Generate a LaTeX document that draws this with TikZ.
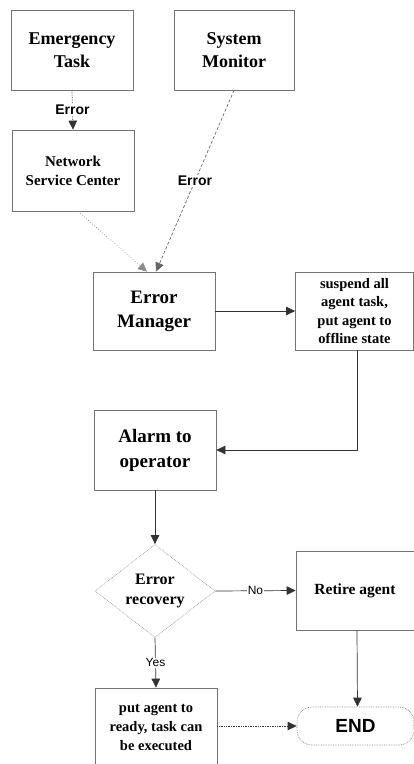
\documentclass[tikz,border=0pt]{standalone}
\usepackage{fontspec}
\setmainfont{Liberation Serif}
\newfontfamily\arialf{Liberation Sans}
\usetikzlibrary{shapes.geometric,arrows.meta}
\tikzset{
  boxnode/.style={draw=black!55, line width=0.7pt, align=center, inner sep=2pt, font=\bfseries},
  dia/.style={diamond, draw=black!40, densely dotted, line width=0.7pt, align=center, inner sep=0pt, minimum width=120pt, minimum height=78pt, font=\bfseries\fontsize{16}{20}\selectfont},
  conn/.style={draw=black!80, line width=0.7pt, -{Triangle[length=9pt,width=8.5pt]}},
  dconn/.style={conn, densely dotted},
  lconn/.style={conn, draw=black!45, dotted},
  lab/.style={fill=white, inner sep=1pt, font=\arialf\bfseries\fontsize{14}{16}\selectfont},
  slab/.style={fill=white, inner sep=1pt, font=\arialf\fontsize{12}{14}\selectfont}
}
\begin{document}
\begin{tikzpicture}[x=1pt,y=-1pt]
\useasboundingbox (0,0) rectangle (414,764);
\clip (0,0) rectangle (414,764);
\node[boxnode, minimum width=122pt, minimum height=80pt, font=\bfseries\fontsize{18}{23}\selectfont] (et) at (72,50) {Emergency\\Task};
\node[boxnode, minimum width=120pt, minimum height=80pt, font=\bfseries\fontsize{18}{23}\selectfont] (sm) at (234,50) {System\\Monitor};
\node[boxnode, minimum width=122pt, minimum height=81pt, font=\bfseries\fontsize{15}{19}\selectfont] (nsc) at (73,170.5) {Network\\Service Center};
\node[boxnode, minimum width=122pt, minimum height=78pt, font=\bfseries\fontsize{19}{24}\selectfont] (em) at (154,311) {Error\\Manager};
\node[boxnode, minimum width=118pt, minimum height=78pt, font=\bfseries\fontsize{14.5}{18.5}\selectfont] (sus) at (354.5,311) {suspend all\\agent task,\\put agent to\\offline state};
\node[boxnode, minimum width=122pt, minimum height=80pt, font=\bfseries\fontsize{19}{25}\selectfont] (alarm) at (155,450) {Alarm to\\operator};
\node[dia] (dec) at (155,591) {Error\\recovery};
\node[boxnode, minimum width=118pt, minimum height=79pt, font=\bfseries\fontsize{15.5}{19}\selectfont] (ret) at (355,590.5) {Retire agent};
\node[boxnode, minimum width=122pt, minimum height=82pt] (put) at (156,729) {};
\node[font=\bfseries\fontsize{14.5}{19}\selectfont, align=center] (puttext) at (156,727) {put agent to\\ready, task can\\be executed};
\node[draw=black!50, densely dotted, line width=0.7pt, rounded corners=15pt, minimum width=117pt, minimum height=38pt, font=\arialf\bfseries\fontsize{19}{22}\selectfont] (end) at (355.5,726) {END};
% connectors
\draw[dconn] (et.south) -- node[lab] {Error} (nsc.north);
\draw[lconn] ([xshift=5pt]nsc.south) -- ([xshift=-7pt]em.north);
\draw[conn, draw=black!60, densely dashed] (sm.south) -- node[lab] {Error} ([xshift=2pt]em.north);
\draw[conn] (em.east) -- (sus.west);
\draw[conn] ([xshift=3pt]sus.south) |- (alarm.east);
\draw[conn] (alarm.south) -- (dec.north);
\draw[conn] (dec.east) -- node[slab] {No} (ret.west);
\draw[conn] (dec.south) -- node[slab] {Yes} (put.north);
\draw[conn] ([xshift=2pt]ret.south) -- ([xshift=2pt]end.north);
\draw[dconn] (put.east |- end.west) -- (end.west);
\end{tikzpicture}
\end{document}
